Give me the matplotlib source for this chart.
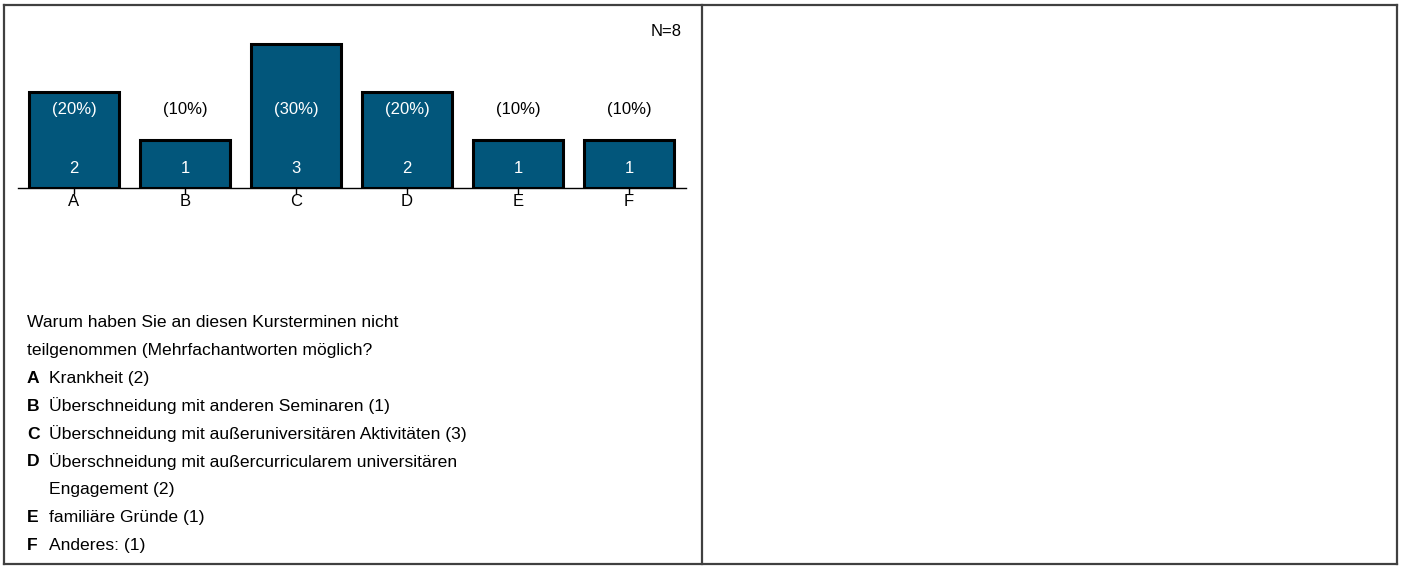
import matplotlib
matplotlib.use("Agg")
import matplotlib.pyplot as plt
from matplotlib.lines import Line2D

plt.rcParams["font.family"] = ["Liberation Sans", "DejaVu Sans"]

categories = ["A", "B", "C", "D", "E", "F"]
counts = [2, 1, 3, 2, 1, 1]
n_respondents = 8
question = ["Warum haben Sie an diesen Kursterminen nicht",
            "teilgenommen (Mehrfachantworten möglich?"]
answers = [
    ("A", "Krankheit (2)"),
    ("B", "Überschneidung mit anderen Seminaren (1)"),
    ("C", "Überschneidung mit außeruniversitären Aktivitäten (3)"),
    ("D", "Überschneidung mit außercurricularem universitären"),
    ("", "Engagement (2)"),
    ("E", "familiäre Gründe (1)"),
    ("F", "Anderes: (1)"),
]

W, H = 1403, 569
fig = plt.figure(figsize=(W / 100, H / 100), dpi=100)


def px(x, y):
    # pixel coords from top-left -> figure fraction
    return x / W, 1 - y / H


# table frame
frame_color = "#404040"
for (x0, y0, x1, y1) in [(4, 5, 1397, 5), (4, 564, 1397, 564), (4, 5, 4, 564),
                         (1397, 5, 1397, 564), (702, 5, 702, 564)]:
    a, b = px(x0, y0)
    c, d = px(x1, y1)
    fig.add_artist(Line2D([a, c], [b, d], color=frame_color, lw=1.6,
                          transform=fig.transFigure))

# bar chart axes
ax_left, ax_right = 18, 686
ax_top, ax_base = 20, 188
l, b = px(ax_left, ax_base)
ax = fig.add_axes([l, b, (ax_right - ax_left) / W, (ax_base - ax_top) / H])
unit = 111.0
ax.set_xlim(-(74 - ax_left) / unit, (ax_right - 74) / unit)
ax.set_ylim(0, (ax_base - ax_top) / 48.0)

x = list(range(len(categories)))
ax.bar(x, counts, width=0.81, color="#02567b", edgecolor="black", linewidth=2.2, zorder=2)

total = sum(counts)
pct_y = (ax_base - 109) / 48.0
cnt_y = (ax_base - 168) / 48.0
for xi, c in zip(x, counts):
    pct = f"({round(100 * c / total)}%)"
    col = "white" if c >= pct_y else "black"
    ax.text(xi, pct_y, pct, ha="center", va="center", fontsize=12, color=col, zorder=3)
    ax.text(xi, cnt_y, str(c), ha="center", va="center", fontsize=12, color="white", zorder=3)

ax.text(0.993, (ax_base - 32) / (ax_base - ax_top), f"N={n_respondents}", transform=ax.transAxes,
        ha="right", va="center", fontsize=12)

for s in ["top", "right", "left"]:
    ax.spines[s].set_visible(False)
ax.spines["bottom"].set_linewidth(1.0)
ax.spines["bottom"].set_zorder(1)
ax.set_yticks([])
ax.set_xticks(x)
ax.set_xticklabels(categories, fontsize=12)
ax.tick_params(axis="x", direction="inout", length=9, width=1, pad=0)

# legend text, baselines in pixels
first_base, step = 327, 27.9
text_size = 12.6
for i, q in enumerate(question):
    fig.text(*px(27, first_base + i * step), q, ha="left", va="baseline", fontsize=text_size)
for i, (k, t) in enumerate(answers):
    y = first_base + (i + 2) * step
    if k:
        fig.text(*px(27, y), k, ha="left", va="baseline", fontsize=text_size, fontweight="bold")
    fig.text(*px(49, y), t, ha="left", va="baseline", fontsize=text_size)

fig.savefig("out.png", dpi=100)
